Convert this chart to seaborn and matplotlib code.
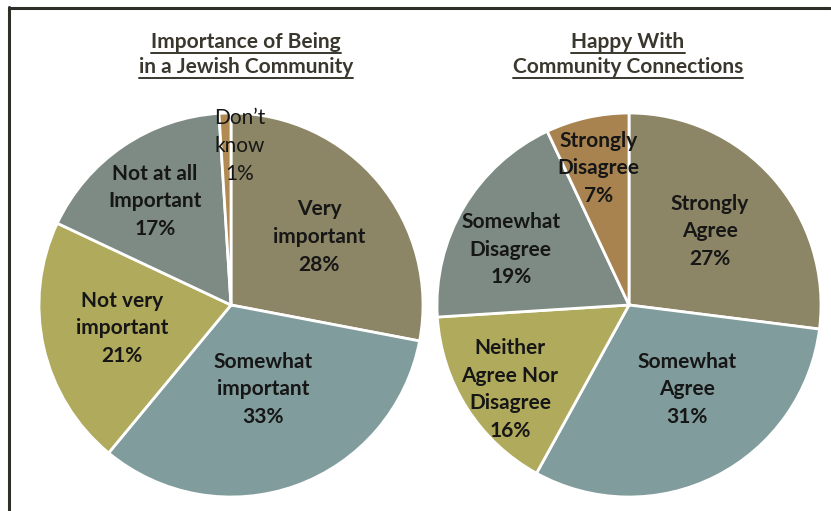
import matplotlib
matplotlib.use("Agg")
import matplotlib.pyplot as plt
from matplotlib.lines import Line2D
import numpy as np
import seaborn as sns

# --- data -------------------------------------------------------------
left_title = ["Importance of Being", "in a Jewish Community"]
left_labels = ["Very\nimportant", "Somewhat\nimportant", "Not very\nimportant",
               "Not at all\nImportant", "Don\u2019t\nknow"]
left_values = [28, 33, 21, 17, 1]

right_title = ["Happy With", "Community Connections"]
right_labels = ["Strongly\nAgree", "Somewhat\nAgree", "Neither\nAgree Nor\nDisagree",
                "Somewhat\nDisagree", "Strongly\nDisagree"]
right_values = [27, 31, 16, 19, 7]

# --- styling ----------------------------------------------------------
sns.set_theme(style="white")
plt.rcParams["font.family"] = ["Lato", "DejaVu Sans"]

left_colors = sns.color_palette(["#8c8666", "#819c9c", "#b0aa5c", "#7d8b84", "#b08a52"])
right_colors = sns.color_palette(["#8c8666", "#819c9c", "#b0aa5c", "#7d8b84", "#a8834f"])

# radial placement of each label (fraction of radius) and small angle nudge
left_label_r = [0.58, 0.47, 0.58, 0.67, 0.83]
left_label_da = [-2, 1, -0.5, 2, -5]
left_bold = [True, True, True, True, False]
right_label_r = [0.57, 0.534, 0.76, 0.68, 0.73]
right_label_da = [1, 7.5, 3, 5.5, 0]
right_bold = [True, True, True, True, True]

W, H = 831, 511
fig = plt.figure(figsize=(W / 100, H / 100), dpi=100)
fig.patch.set_facecolor("white")

R = 192  # pie radius in pixels
FS = 15


def draw_pie(cx, cy, values, labels, colors, label_r, label_da, bold):
    ax = fig.add_axes([(cx - R) / W, (H - cy - R) / H, 2 * R / W, 2 * R / H])
    wedges, _ = ax.pie(values, colors=colors, startangle=90, counterclock=False,
                       radius=1, wedgeprops=dict(edgecolor="white", linewidth=2))
    ax.set_xlim(-1, 1)
    ax.set_ylim(-1, 1)
    ax.set_aspect("auto")
    ax.axis("off")
    for w, lab, val, rf, da, b in zip(wedges, labels, values, label_r, label_da, bold):
        mid = np.deg2rad((w.theta1 + w.theta2) / 2 + da)
        ax.text(rf * np.cos(mid), rf * np.sin(mid), f"{lab}\n{val}%",
                ha="center", va="center", fontsize=FS,
                fontweight="bold" if b else "normal", color="#161616",
                linespacing=1.48, clip_on=False)
    return ax


draw_pie(231, 305, left_values, left_labels, left_colors,
         left_label_r, left_label_da, left_bold)
draw_pie(629, 305, right_values, right_labels, right_colors,
         right_label_r, right_label_da, right_bold)

# underlined two-line titles
title_color = "#3a382e"
titles = []
for cx, lines in [(246, left_title), (628, right_title)]:
    for i, line in enumerate(lines):
        t = fig.text(cx / W, 1 - (42 + 25 * i) / H, line, ha="center", va="center",
                     fontsize=FS, fontweight="bold", color=title_color)
        titles.append(t)

fig.canvas.draw()
renderer = fig.canvas.get_renderer()
for t in titles:
    bb = t.get_window_extent(renderer)
    y = (bb.y0 - 1.0) / H
    fig.add_artist(Line2D([bb.x0 / W, bb.x1 / W], [y, y], transform=fig.transFigure,
                          color=title_color, linewidth=1.4))

# frame lines at top and left
frame = "#2f2e27"
fig.add_artist(Line2D([8.5 / W, 830 / W], [1 - 8 / H, 1 - 8 / H],
                      transform=fig.transFigure, color=frame, linewidth=2.2))
fig.add_artist(Line2D([8.5 / W, 8.5 / W], [1 - 7 / H, 0],
                      transform=fig.transFigure, color=frame, linewidth=2.2))

fig.savefig("out.png", dpi=100, facecolor="white")
